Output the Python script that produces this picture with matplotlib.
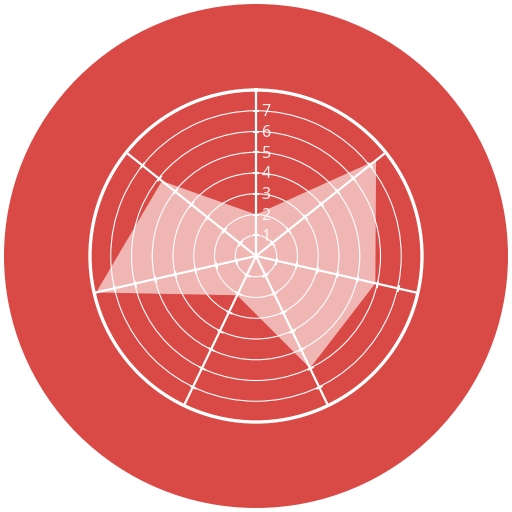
import numpy as np
import matplotlib
matplotlib.use("Agg")
import matplotlib.pyplot as plt
from matplotlib.patches import Circle
from matplotlib.transforms import offset_copy

# data
categories = ["A", "B", "C", "D", "E", "F", "G"]
values = [2.0, 7.4, 5.9, 6.0, 2.1, 7.9, 5.8]
ring_ticks = [1, 2, 3, 4, 5, 6, 7]
ring_labels = ["1", "2", "3", "4", "5", "6", "7"]
r_max = 8

RED = "#d94a46"

fig = plt.figure(figsize=(5.12, 5.12), dpi=100)
fig.patch.set_facecolor("white")
fig.patches.append(Circle((0.5, 0.5), 252 / 512, transform=fig.transFigure,
                          facecolor=RED, edgecolor="none", zorder=-5))

w = 332 / 512
ax = fig.add_axes([0.5 - w / 2, 0.5 - w / 2, w, w], polar=True)
ax.set_zorder(1)
ax.set_facecolor("none")
ax.set_theta_offset(np.pi / 2)
ax.set_theta_direction(-1)

n = len(categories)
angles = np.arange(n) * 2 * np.pi / n
ax.fill(np.append(angles, angles[0]), values + [values[0]],
        color="white", alpha=0.6, linewidth=0, zorder=1)

ax.set_ylim(0, r_max)
ax.set_xticks(angles)
ax.set_xticklabels([])
ax.set_yticks(ring_ticks)
ax.set_yticklabels([])
ax.tick_params(length=0)
ax.xaxis.grid(True, color="white", linewidth=1.6)
ax.yaxis.grid(True, color="white", linewidth=0.8)
ax.spines["polar"].set_color("white")
ax.spines["polar"].set_linewidth(2.4)

# tick marks on spokes
for a in angles:
    disp_deg = 90 - np.degrees(a)  # screen angle of spoke
    ax.plot([a] * len(ring_ticks), ring_ticks, linestyle="none",
            marker=(2, 0, disp_deg), markersize=5, markeredgewidth=1.4,
            color="white", zorder=3)

# ring labels
tr = offset_copy(ax.transData, fig=fig, x=4, y=-1, units="points")
for r, lab in zip(ring_ticks, ring_labels):
    ax.text(0, r, lab, transform=tr, ha="left", va="center",
            color="white", alpha=0.9, fontsize=11.5, family=["Noto Sans", "DejaVu Sans"],
            zorder=4)

fig.savefig("out.png", dpi=100)
